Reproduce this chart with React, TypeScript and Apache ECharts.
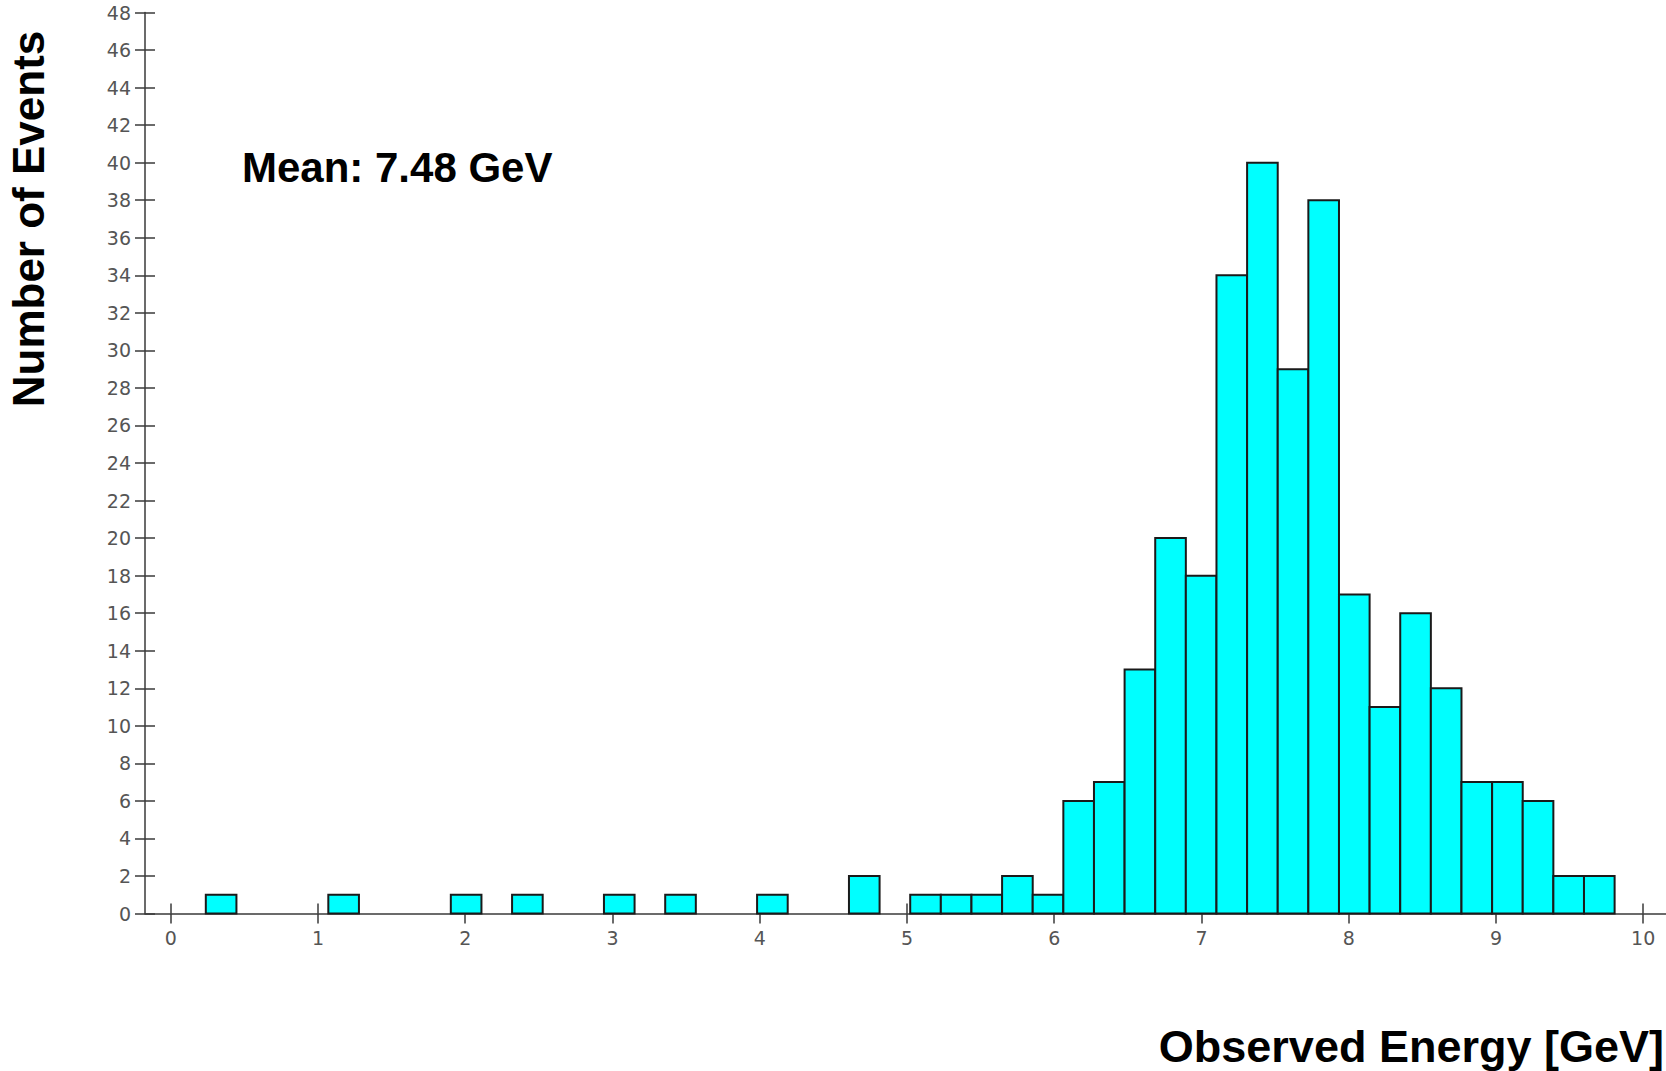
import React, { useEffect, useRef } from "react";
import * as echarts from "echarts";

// Histogram definition: range and counts per bin
const histMin = 0.238;
const histMax = 9.806;
const binCounts = [
  1, 0, 0, 0, 1, 0, 0, 0, 1, 0, 1, 0, 0, 1, 0, 1, 0, 0, 1, 0, 0, 2, 0,
  1, 1, 1, 2, 1, 6, 7, 13, 20, 18, 34, 40, 29, 38, 17, 11, 16, 12, 7, 7, 6, 2, 2,
];

const xTickValues = [0, 1, 2, 3, 4, 5, 6, 7, 8, 9, 10];
const xMin = -0.175;
const xMax = 10.155;
const yMin = 0;
const yMax = 48;
const yStep = 2;

const meanLabel = "Mean: 7.48 GeV";
const xTitle = "Observed Energy [GeV]";
const yTitle = "Number of Events";

export default function App() {
  const ref = useRef<HTMLDivElement>(null);

  useEffect(() => {
    if (!ref.current) return;
    const chart = echarts.init(ref.current, null, { renderer: "svg" });
    const n = binCounts.length;
    const w = (histMax - histMin) / n;
    const data = binCounts
      .map((c, i) => [histMin + i * w, histMin + (i + 1) * w, c])
      .filter((d) => d[2] > 0);

    const axisColor = "#3a3a3a";
    const tickStyle = { color: axisColor, width: 1.5 };
    const labelStyle = {
      fontFamily: "DejaVu Sans",
      fontSize: 19,
      color: "#555",
    };
    const gridBox = { left: 145, right: 0, top: 12.5, bottom: 157.5 };

    chart.setOption({
      animation: false,
      backgroundColor: "#ffffff",
      grid: [gridBox, { ...gridBox }],
      xAxis: [
        {
          type: "value",
          gridIndex: 0,
          min: xMin,
          max: xMax,
          position: "bottom",
          axisLine: { show: true, onZero: false, lineStyle: tickStyle },
          axisTick: { show: true, length: 10, customValues: xTickValues, lineStyle: tickStyle },
          axisLabel: { customValues: xTickValues, margin: 15, ...labelStyle },
          splitLine: { show: false },
        },
        {
          type: "value",
          gridIndex: 1,
          min: xMin,
          max: xMax,
          position: "bottom",
          axisLine: { show: false, onZero: false },
          axisTick: { show: true, inside: true, length: 10, customValues: xTickValues, lineStyle: tickStyle },
          axisLabel: { show: false },
          splitLine: { show: false },
        },
      ],
      yAxis: [
        {
          type: "value",
          gridIndex: 0,
          min: yMin,
          max: yMax,
          interval: yStep,
          position: "left",
          axisLine: { show: true, onZero: false, lineStyle: tickStyle },
          axisTick: { show: true, length: 10, lineStyle: tickStyle },
          axisLabel: { margin: 14, ...labelStyle },
          splitLine: { show: false },
        },
        {
          type: "value",
          gridIndex: 1,
          min: yMin,
          max: yMax,
          interval: yStep,
          position: "left",
          axisLine: { show: false, onZero: false },
          axisTick: { show: true, inside: true, length: 10, lineStyle: tickStyle },
          axisLabel: { show: false },
          splitLine: { show: false },
        },
      ],
      series: [
        {
          type: "custom",
          xAxisIndex: 0,
          yAxisIndex: 0,
          z: 5,
          clip: false,
          data,
          encode: { x: [0, 1], y: 2 },
          renderItem: (params: any, api: any) => {
            const p0 = api.coord([api.value(0), api.value(2)]);
            const p1 = api.coord([api.value(1), 0]);
            return {
              type: "rect",
              shape: { x: p0[0], y: p0[1], width: p1[0] - p0[0], height: p1[1] - p0[1] },
              style: { fill: "#00FFFF", stroke: "#1a1a1a", lineWidth: 2 },
            };
          },
        },
      ],
      graphic: [
        {
          type: "text",
          x: 242,
          y: 167.5,
          style: {
            text: meanLabel,
            fontFamily: "Liberation Sans",
            fontWeight: "bold",
            fontSize: 42,
            fill: "#000",
            align: "left",
            verticalAlign: "middle",
          },
        },
        {
          type: "text",
          x: 1664,
          y: 1046,
          style: {
            text: xTitle,
            fontFamily: "Liberation Sans",
            fontWeight: "bold",
            fontSize: 45,
            fill: "#000",
            align: "right",
            verticalAlign: "middle",
          },
        },
        {
          type: "text",
          x: 28,
          y: 219,
          rotation: Math.PI / 2,
          style: {
            text: yTitle,
            fontFamily: "Liberation Sans",
            fontWeight: "bold",
            fontSize: 44,
            fill: "#000",
            align: "center",
            verticalAlign: "middle",
          },
        },
      ],
    });

    return () => chart.dispose();
  }, []);

  return (
    <div
      ref={ref}
      style={{ position: "absolute", left: 0, top: 0, width: 1666, height: 1071, background: "#fff" }}
    />
  );
}
